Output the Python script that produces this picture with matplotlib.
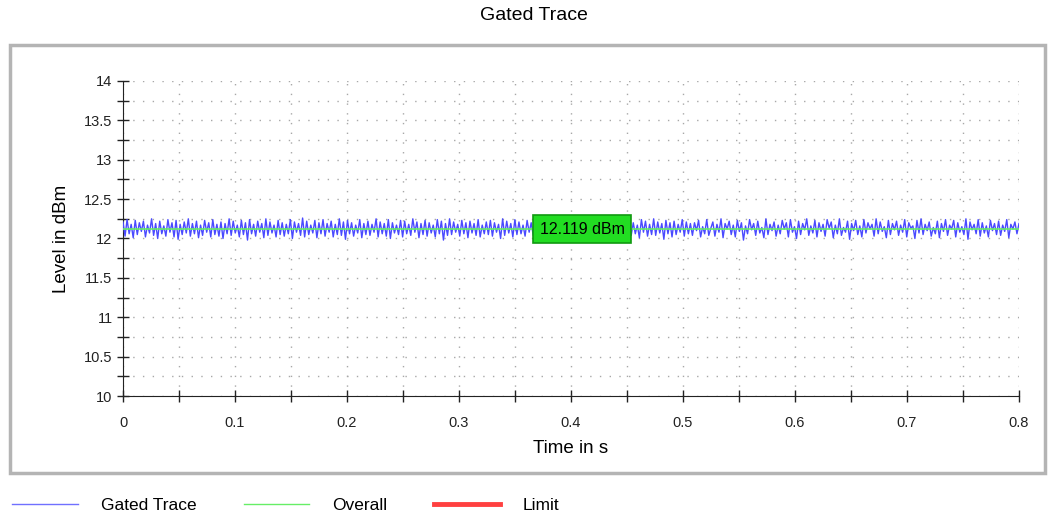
import numpy as np
import matplotlib
matplotlib.use("Agg")
import matplotlib.pyplot as plt
from matplotlib.lines import Line2D
from matplotlib.patches import Rectangle
from matplotlib.ticker import MultipleLocator

plt.rcParams['font.family'] = ['Liberation Sans', 'DejaVu Sans']

# gated trace level in dBm (one sample each)
trace_lvl = [
    12.21, 12.03, 12.24, 12.06, 12.18, 12.01, 12.23, 12.05, 12.20, 12.09,
    12.22, 12.02, 12.17, 12.07, 12.25, 12.04, 12.19, 12.00, 12.22, 12.06,
    12.16, 12.03, 12.24, 12.08, 12.20, 12.02, 12.23, 11.99, 12.18, 12.05,
    12.21, 12.07, 12.25, 12.03, 12.19, 12.06, 12.22, 12.01, 12.17, 12.04,
    12.23, 12.08, 12.20, 12.02, 12.24, 12.05, 12.18, 12.03, 12.21, 12.00,
    12.19, 12.06, 12.25, 12.04, 12.22, 12.07, 12.17, 12.02, 12.23, 12.05,
    12.20, 11.98, 12.24, 12.06, 12.18, 12.03, 12.22, 12.08, 12.19, 12.01,
    12.25, 12.04, 12.21, 12.07, 12.17, 12.02, 12.23, 12.05, 12.20, 12.03,
    12.18, 12.06, 12.24, 12.00, 12.21, 12.08, 12.19, 12.04, 12.26, 12.02,
    12.22, 12.05, 12.17, 12.07, 12.23, 12.01, 12.20, 12.06, 12.24, 12.03,
    12.19, 12.08, 12.22, 12.02, 12.18, 12.05, 12.25, 12.04, 12.21, 11.99,
    12.23, 12.06, 12.20, 12.03, 12.17, 12.07, 12.24, 12.01, 12.19, 12.05,
    12.22, 12.04, 12.18, 12.08, 12.25, 12.02, 12.21, 12.06, 12.19, 12.03,
    12.24, 12.00, 12.20, 12.07, 12.17, 12.05, 12.23, 12.02, 12.22, 12.06,
    12.18, 12.04, 12.25, 12.08, 12.21, 12.01, 12.19, 12.05, 12.23, 12.03,
    12.20, 12.07, 12.17, 12.02, 12.24, 12.06, 12.22, 11.98, 12.19, 12.04,
    12.25, 12.05, 12.21, 12.08, 12.18, 12.03, 12.23, 12.06, 12.20, 12.01,
    12.22, 12.07, 12.19, 12.04, 12.24, 12.02, 12.17, 12.06, 12.21, 12.05,
    12.23, 12.03, 12.20, 12.08, 12.18, 12.00, 12.25, 12.04, 12.22, 12.07,
    12.19, 12.02, 12.24, 12.05, 12.21, 12.06, 12.17, 12.03, 12.23, 12.08,
    12.20, 12.04, 12.22, 11.99, 12.18, 12.07, 12.24, 12.05, 12.19, 12.02,
    12.25, 12.06, 12.21, 12.03, 12.17, 12.08, 12.23, 12.04, 12.20, 12.01,
    12.22, 12.05, 12.18, 12.07, 12.24, 12.02, 12.21, 12.06, 12.19, 12.03,
    12.23, 12.08, 12.20, 12.04, 12.17, 12.05, 12.25, 12.00, 12.22, 12.06,
    12.18, 12.03, 12.24, 12.07, 12.21, 12.02, 12.19, 12.05, 12.23, 12.04,
    12.20, 12.06, 12.17, 12.01, 12.24, 12.08, 12.22, 12.03, 12.18, 12.05,
    12.25, 12.04, 12.21, 12.07, 12.19, 11.99, 12.23, 12.06, 12.20, 12.02,
    12.22, 12.05, 12.18, 12.08, 12.24, 12.03, 12.21, 12.06, 12.19, 12.04,
    12.20, 12.10, 12.23, 12.02, 12.15, 12.06, 12.24, 12.04, 12.13, 12.21,
    12.03, 12.18, 12.08, 12.25, 12.01, 12.19, 12.12, 12.22, 12.05, 12.17,
    12.02, 12.23, 12.09, 12.20, 11.98, 12.16, 12.06, 12.24, 12.11, 12.19,
    12.04, 12.22, 12.07, 12.14, 12.01, 12.25, 12.05, 12.18, 12.10, 12.21,
    12.03, 12.17, 12.06, 12.23, 12.12, 12.20, 12.02, 12.24, 12.08, 12.15,
    12.00, 12.22, 12.05, 12.19, 12.11, 12.25, 12.04, 12.16, 12.07, 12.23,
    12.02, 12.20, 12.09, 12.18, 12.03, 12.24, 12.13, 12.21, 12.01, 12.17,
    12.06, 12.25, 12.04, 12.14, 12.08, 12.22, 11.99, 12.19, 12.10, 12.23,
    12.05, 12.16, 12.02, 12.24, 12.07, 12.20, 12.12, 12.18, 12.03, 12.25,
    12.06, 12.21, 12.09, 12.15, 12.01, 12.23, 12.05, 12.19, 12.11, 12.22,
    12.04, 12.17, 12.08, 12.24, 12.02, 12.20, 12.13, 12.16, 12.00, 12.23,
    12.07, 12.25, 12.05, 12.18, 12.10, 12.21, 12.03, 12.14, 12.06, 12.22,
    12.01, 12.19, 12.09, 12.24, 12.04, 12.17, 12.12, 12.23, 12.02, 12.20,
    12.08, 12.15, 12.05, 12.25, 11.99, 12.21, 12.11, 12.18, 12.06, 12.24,
    12.03, 12.20, 12.07, 12.16, 12.02, 12.23, 12.10, 12.19, 12.05, 12.22,
    12.04, 12.17, 12.09, 12.24, 12.01, 12.18, 12.12, 12.21, 12.06, 12.19,
]
t_start, t_stop = 0.0, 0.8
overall_lvl = 12.119
label_time = 0.41

x_ticks = [0, 0.1, 0.2, 0.3, 0.4, 0.5, 0.6, 0.7, 0.8]
y_ticks = [10, 10.5, 11, 11.5, 12, 12.5, 13, 13.5, 14]

t = np.linspace(t_start, t_stop, len(trace_lvl))

fig = plt.figure(figsize=(10.49, 5.17), dpi=100)
# grey panel around the plot
fig.add_artist(Rectangle((10 / 1049, 1 - 473 / 517), 1035 / 1049, 428 / 517,
                         transform=fig.transFigure, fill=False,
                         edgecolor='#b4b4b4', linewidth=2.5))

ax = fig.add_axes([123 / 1049, 1 - 396 / 517, 896 / 1049, 315 / 517])
ax.plot(t, trace_lvl, color='#4a4aff', linewidth=1.0, zorder=3)
ax.axhline(overall_lvl, color='#66ee66', linewidth=1.2, zorder=4)
ax.text(label_time, overall_lvl, f"{overall_lvl:.3f} dBm", fontsize=11.5,
        ha='center', va='center', zorder=5,
        bbox=dict(boxstyle='square,pad=0.4', facecolor='#22dd22',
                  edgecolor='#119911', linewidth=1.2))

ax.set_xlim(t_start, t_stop)
ax.set_ylim(10, 14)
ax.set_xticks(x_ticks)
ax.set_xticklabels([f"{v:g}" for v in x_ticks])
ax.set_yticks(y_ticks)
ax.set_yticklabels([f"{v:g}" for v in y_ticks])
ax.xaxis.set_minor_locator(MultipleLocator(0.05))
ax.yaxis.set_minor_locator(MultipleLocator(0.25))
ax.tick_params(which='both', direction='inout', length=9, width=1, labelsize=10.5,
               colors='#222222')
ax.tick_params(axis='x', pad=10)
ax.tick_params(axis='y', pad=3)

ax.grid(which='both', linestyle=(0, (1, 6)), color='#a8a8a8', linewidth=1)
for s in ['top', 'right']:
    ax.spines[s].set_visible(False)
for s in ['left', 'bottom']:
    ax.spines[s].set_color('#222222')

ax.set_xlabel("Time in s", fontsize=13.5, labelpad=7)
ax.set_ylabel("Level in dBm", fontsize=13.5, labelpad=10)

fig.text(534 / 1049, 1 - 16 / 517, "Gated Trace", ha='center', va='center', fontsize=14)

handles = [Line2D([], [], color='#7070ff', linewidth=1),
           Line2D([], [], color='#66ee66', linewidth=1),
           Line2D([], [], color='#ff4040', linewidth=3.5)]
fig.legend(handles, ["Gated Trace", "Overall", "Limit"], loc='center left',
           bbox_to_anchor=(-0.003, 1 - 505 / 517), ncol=3, frameon=False,
           fontsize=12.5, handlelength=3.8, handletextpad=1.3, columnspacing=2.7)

fig.savefig("out.png", dpi=100)
